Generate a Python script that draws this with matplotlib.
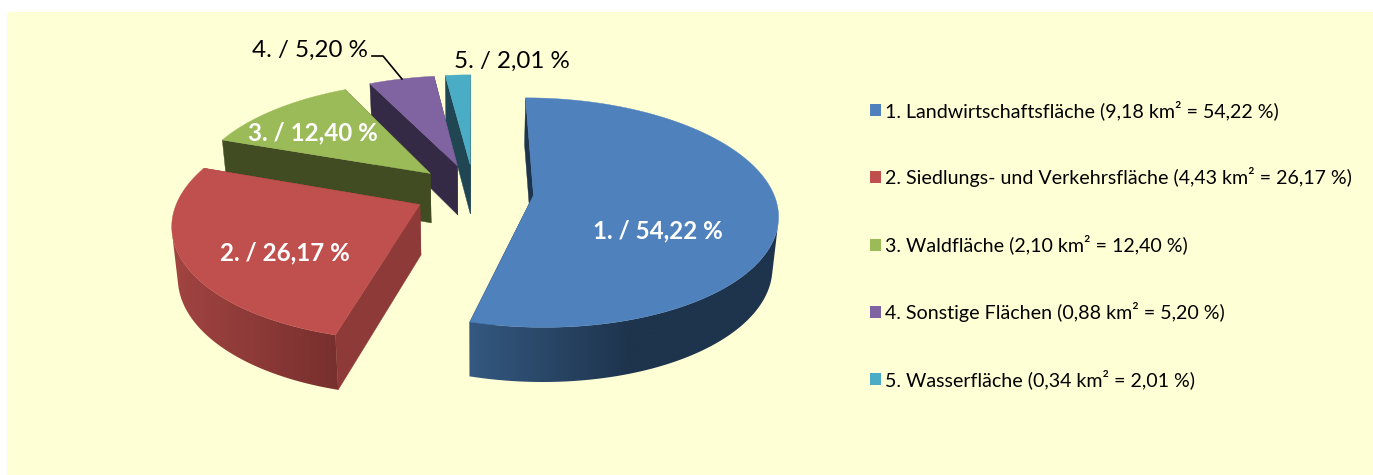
import numpy as np
import matplotlib
matplotlib.use('Agg')
import matplotlib.pyplot as plt
from matplotlib.patches import Polygon, Rectangle, Patch, PathPatch
from matplotlib.path import Path
from matplotlib.colors import to_rgb

# --- data ---
categories = ['Landwirtschaftsfläche', 'Siedlungs- und Verkehrsfläche', 'Waldfläche',
              'Sonstige Flächen', 'Wasserfläche']
areas_km2 = [9.18, 4.43, 2.10, 0.88, 0.34]
percent = [54.22, 26.17, 12.40, 5.20, 2.01]

# --- style ---
top_colors = ['#4f81bd', '#c0504d', '#9bbb59', '#8064a2', '#4bacc6']
wall_colors = ['#1e344d', '#8e3a38', '#424c22', '#352a45', '#1f4652']
rim_stops = [([470, 630, 779], ['#345880', '#1e344d', '#1e344d']),
             ([172, 335], ['#a24442', '#78302e']),
             ([200, 400], ['#424c22', '#424c22']),
             ([350, 450], ['#352a45', '#352a45']),
             ([440, 480], ['#1f4652', '#1f4652'])]
X0, Y0, A, B, K, EXPLODE, DEPTH, SHRINK = 473.84, 191.45, 239.44, 110.97, 0.1515, 0.25, 50, 0.98
FONT = 'Lato'
plt.rcParams['font.family'] = [FONT, 'DejaVu Sans']


def project(u, v):
    s = 1 / (1 + K * v)
    return X0 + A * u * s, Y0 - B * v * s, s


def lower(x, y, s):
    return X0 + (x - X0) * SHRINK, y + DEPTH * (0.5 + 0.5 * s)


def fmt(v, d=2):
    return f'{v:.{d}f}'.replace('.', ',')


def shoelace(px, py):
    return np.sum(px * np.roll(py, -1) - np.roll(px, -1) * py)


fig = plt.figure(figsize=(13.73, 4.75), dpi=100)
ax = fig.add_axes([0, 0, 1, 1])
ax.axis('off')
ax.add_patch(Rectangle((7, 12), 1366, 463, fc='#ffffd5', ec='none', zorder=0))

edges = np.concatenate([[0], np.cumsum(percent)]) / np.sum(percent) * 2 * np.pi
handles = []
z = 1
for i in [4, 3, 2, 1, 0]:
    a0, a1 = edges[i], edges[i + 1]
    m = (a0 + a1) / 2
    ou, ov = EXPLODE * np.sin(m), EXPLODE * np.cos(m)
    th = np.linspace(a0, a1, max(12, int((a1 - a0) * 60)))
    ax_, ay_, as_ = project(np.array([ou]), np.array([ov]))
    rx, ry, rs = project(ou + np.sin(th), ov + np.cos(th))
    bx, by = lower(rx, ry, rs)
    abx, aby = lower(ax_, ay_, as_)
    # walls along the two cut edges
    for j in (0, -1):
        ax.add_patch(Polygon([(ax_[0], ay_[0]), (rx[j], ry[j]), (bx[j], by[j]), (abx[0], aby[0])],
                             fc=wall_colors[i], ec=wall_colors[i], lw=0.3, zorder=z))
    # visible part of the outer rim, shaded horizontally and clipped to its outline
    vis = [k for k in range(len(th) - 1)
           if shoelace(np.array([rx[k], rx[k + 1], bx[k + 1], bx[k]]),
                       np.array([ry[k], ry[k + 1], by[k + 1], by[k]])) < 0]
    if vis:
        k0, k1 = vis[0], vis[-1] + 1
        outline = np.column_stack([np.r_[rx[k0:k1 + 1], bx[k0:k1 + 1][::-1]],
                                   np.r_[ry[k0:k1 + 1], by[k0:k1 + 1][::-1]]])
        rim = Polygon(outline, fc='none', ec='none', transform=ax.transData)
        ax.add_patch(rim)
        stops_x, stops_c = rim_stops[i]
        rgb = np.array([to_rgb(c) for c in stops_c])
        xs = np.arange(int(outline[:, 0].min()) - 2, int(outline[:, 0].max()) + 3)
        img = np.stack([np.interp(xs, stops_x, rgb[:, n]) for n in range(3)], axis=-1)[None, :, :]
        im = ax.imshow(img, extent=(xs[0], xs[-1], outline[:, 1].max() + 2, outline[:, 1].min() - 2),
                       aspect='auto', zorder=z, interpolation='bilinear')
        im.set_clip_path(rim)
    z += 1
    ax.add_patch(Polygon(np.column_stack([np.r_[ax_, rx], np.r_[ay_, ry]]),
                         fc=top_colors[i], ec=top_colors[i], lw=0.3, zorder=z))
    z += 1

ax.set_xlim(0, 1373)
ax.set_ylim(475, 0)
ax.set_aspect('auto')

# data labels
label_xy = [(658, 231), (285, 253), (313, 133), (310, 50.5), (512, 61)]
for i, (x, y) in enumerate(label_xy):
    inside = i < 3
    ax.text(x, y, f'{i + 1}. / {fmt(percent[i])} %', ha='center', va='center',
            fontsize=17.4, color='white' if inside else 'black',
            fontweight='bold' if inside else 'normal', zorder=50)
ax.plot([372, 383, 402], [56, 56, 79], color='black', lw=1.2, zorder=50)

# legend
for i in range(5):
    handles.append(Patch(fc=top_colors[i], ec='none',
                         label=f'{i + 1}. {categories[i]} ({fmt(areas_km2[i])} km² = {fmt(percent[i])} %)'))
leg = ax.legend(handles=handles, loc='upper left', bbox_to_anchor=(870 / 1373, 1 - 100 / 475),
                frameon=False, fontsize=14.1, labelspacing=2.42, handlelength=0.56, handleheight=0.56,
                handletextpad=0.2, borderpad=0, borderaxespad=0, labelcolor='black')
leg.set_zorder(60)

fig.savefig('out.png', dpi=100)
